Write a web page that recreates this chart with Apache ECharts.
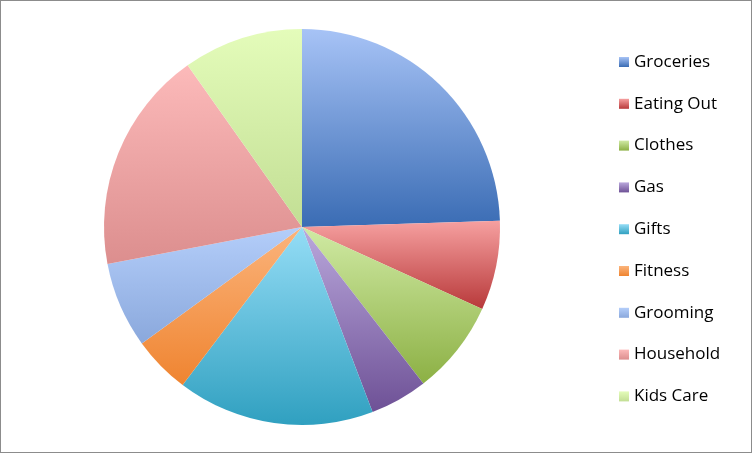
<!DOCTYPE html>
<html>
<head>
<meta charset="utf-8">
<script src="https://cdn.jsdelivr.net/npm/echarts@6/dist/echarts.min.js"></script>
<style>
    html, body { margin: 0; padding: 0; background: #fff; }
    #chart { width: 750px; height: 451px; border: 1px solid #8c8c8c; }
</style>
</head>
<body>
<div id="chart"></div>
<script>
// 分类
var categories = ['Groceries', 'Eating Out', 'Clothes', 'Gas', 'Gifts', 'Fitness', 'Grooming', 'Household', 'Kids Care'];
// 各项占比（%）
var values = [24.5, 7.3, 7.7, 4.7, 16.1, 4.7, 7.0, 18.2, 9.8];
// 渐变颜色：上浅下深
var topColors = ['#a7c3f6', '#f6a0a0', '#d0eaa4', '#baa8dc', '#95ddf6', '#fbb47c', '#b4cefa', '#fcbaba', '#e4fcba'];
var bottomColors = ['#3a6cb4', '#b8393a', '#8cb044', '#6e5196', '#30a0c0', '#ef8430', '#8aa8dc', '#dc8e8e', '#c2de94'];

var myChart = echarts.init(document.getElementById('chart'));

var pieData = categories.map(function (name, i) {
    return {
        name: name,
        value: values[i],
        itemStyle: {
            color: new echarts.graphic.LinearGradient(0, 0, 0, 1, [
                { offset: 0, color: topColors[i] },
                { offset: 1, color: bottomColors[i] }
            ])
        }
    };
});

var option = {
    animation: false,
    legend: {
        orient: 'vertical',
        left: 613,
        top: 46,
        itemWidth: 10,
        itemHeight: 10,
        itemGap: 21.8,
        icon: 'rect',
        textStyle: {
            fontFamily: 'Open Sans',
            fontSize: 17,
            lineHeight: 20,
            color: '#000'
        },
        data: categories
    },
    series: [
        {
            name: 'Spending',
            type: 'pie',
            center: [301, 226],
            radius: 198,
            startAngle: 90,
            clockwise: true,
            label: { show: false },
            labelLine: { show: false },
            emphasis: { disabled: true },
            itemStyle: {
                borderWidth: 0
            },
            data: pieData
        }
    ]
};

myChart.setOption(option);
</script>
</body>
</html>
